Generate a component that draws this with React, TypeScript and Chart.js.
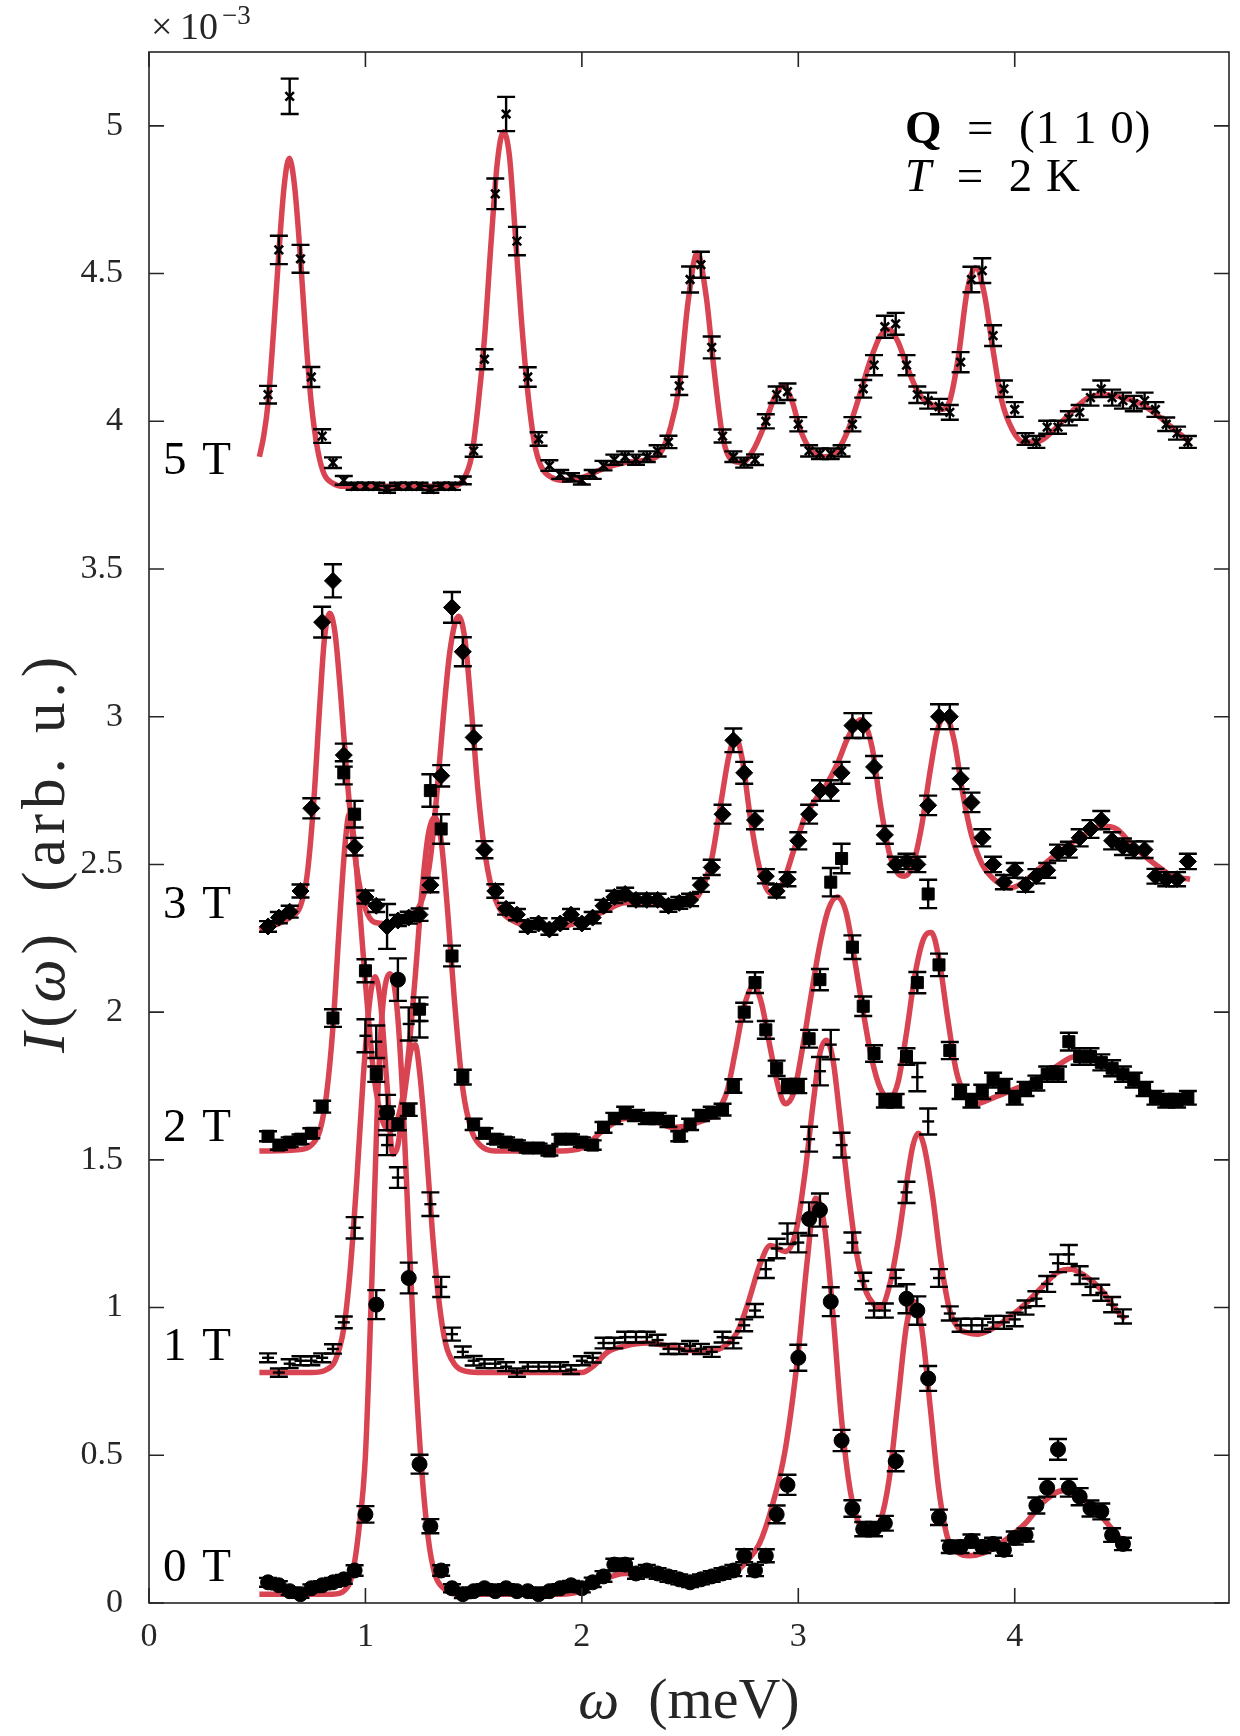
import React, { useEffect, useRef } from "react";
import { Chart, registerables } from "chart.js";

Chart.register(...registerables);

// ---------- energy transfer grids (meV) ----------
const omegaLong = [
  0.55, 0.6, 0.65, 0.7, 0.75, 0.8, 0.85, 0.9, 0.95, 1.0,
  1.05, 1.1, 1.15, 1.2, 1.25, 1.3, 1.35, 1.4, 1.45, 1.5,
  1.55, 1.6, 1.65, 1.7, 1.75, 1.8, 1.85, 1.9, 1.95, 2.0,
  2.05, 2.1, 2.15, 2.2, 2.25, 2.3, 2.35, 2.4, 2.45, 2.5,
  2.55, 2.6, 2.65, 2.7, 2.75, 2.8, 2.85, 2.9, 2.95, 3.0,
  3.05, 3.1, 3.15, 3.2, 3.25, 3.3, 3.35, 3.4, 3.45, 3.5,
  3.55, 3.6, 3.65, 3.7, 3.75, 3.8, 3.85, 3.9, 3.95, 4.0,
  4.05, 4.1, 4.15, 4.2, 4.25, 4.3, 4.35, 4.4, 4.45, 4.5,
  4.55, 4.6, 4.65, 4.7, 4.75, 4.8,
];
const omegaShort = [
  0.55, 0.6, 0.65, 0.7, 0.75, 0.8, 0.85, 0.9, 0.95, 1.0,
  1.05, 1.1, 1.15, 1.2, 1.25, 1.3, 1.35, 1.4, 1.45, 1.5,
  1.55, 1.6, 1.65, 1.7, 1.75, 1.8, 1.85, 1.9, 1.95, 2.0,
  2.05, 2.1, 2.15, 2.2, 2.25, 2.3, 2.35, 2.4, 2.45, 2.5,
  2.55, 2.6, 2.65, 2.7, 2.75, 2.8, 2.85, 2.9, 2.95, 3.0,
  3.05, 3.1, 3.15, 3.2, 3.25, 3.3, 3.35, 3.4, 3.45, 3.5,
  3.55, 3.6, 3.65, 3.7, 3.75, 3.8, 3.85, 3.9, 3.95, 4.0,
  4.05, 4.1, 4.15, 4.2, 4.25, 4.3, 4.35, 4.4, 4.45, 4.5,
];

// ---------- measured intensities (x 1e-3 arb. u.) ----------
const int5T = [
  4.09, 4.58, 5.10, 4.55, 4.15, 3.95, 3.86, 3.80, 3.78, 3.78,
  3.78, 3.77, 3.78, 3.78, 3.78, 3.77, 3.78, 3.78, 3.80, 3.90,
  4.21, 4.77, 5.04, 4.61, 4.15, 3.94, 3.85, 3.82, 3.81, 3.80,
  3.82, 3.85, 3.87, 3.88, 3.87, 3.88, 3.90, 3.93, 4.12, 4.48,
  4.53, 4.25, 3.95, 3.88, 3.86, 3.87, 4.00, 4.09, 4.10, 3.99,
  3.90, 3.89, 3.89, 3.90, 3.99, 4.11, 4.19, 4.32, 4.33, 4.19,
  4.09, 4.07, 4.05, 4.03, 4.20, 4.48, 4.51, 4.29, 4.11, 4.04,
  3.94, 3.93, 3.98, 3.98, 4.01, 4.03, 4.08, 4.11, 4.08, 4.07,
  4.06, 4.07, 4.04, 3.99, 3.96, 3.93,
];
const err5T = [
  0.030, 0.048, 0.060, 0.047, 0.034, 0.023, 0.018, 0.015, 0.012, 0.012,
  0.012, 0.012, 0.012, 0.012, 0.012, 0.012, 0.012, 0.012, 0.013, 0.020,
  0.034, 0.052, 0.058, 0.048, 0.033, 0.023, 0.018, 0.015, 0.014, 0.014,
  0.015, 0.016, 0.017, 0.018, 0.017, 0.018, 0.019, 0.021, 0.031, 0.044,
  0.044, 0.037, 0.022, 0.018, 0.017, 0.018, 0.024, 0.028, 0.028, 0.024,
  0.019, 0.018, 0.018, 0.019, 0.024, 0.030, 0.034, 0.037, 0.037, 0.034,
  0.028, 0.027, 0.026, 0.025, 0.034, 0.043, 0.042, 0.035, 0.028, 0.025,
  0.020, 0.020, 0.022, 0.022, 0.024, 0.025, 0.027, 0.028, 0.027, 0.027,
  0.026, 0.027, 0.025, 0.023, 0.022, 0.020,
];

const int3T = [
  2.29, 2.32, 2.34, 2.41, 2.69, 3.32, 3.46, 2.87, 2.56, 2.39,
  2.36, 2.29, 2.31, 2.32, 2.33, 2.43, 2.80, 3.37, 3.22, 2.93,
  2.55, 2.41, 2.35, 2.33, 2.29, 2.30, 2.28, 2.30, 2.33, 2.30,
  2.32, 2.36, 2.39, 2.40, 2.38, 2.38, 2.38, 2.36, 2.37, 2.38,
  2.43, 2.49, 2.67, 2.92, 2.81, 2.65, 2.46, 2.41, 2.45, 2.58,
  2.67, 2.75, 2.75, 2.81, 2.97, 2.97, 2.83, 2.60, 2.50, 2.51,
  2.50, 2.70, 3.00, 3.00, 2.79, 2.71, 2.59, 2.50, 2.44, 2.48,
  2.43, 2.46, 2.48, 2.54, 2.55, 2.59, 2.62, 2.65, 2.58, 2.56,
  2.55, 2.55, 2.46, 2.45, 2.45, 2.51,
];
const err3T = [
  0.018, 0.019, 0.020, 0.022, 0.034, 0.052, 0.056, 0.039, 0.030, 0.022,
  0.021, 0.076, 0.019, 0.020, 0.021, 0.024, 0.036, 0.052, 0.049, 0.040,
  0.029, 0.023, 0.020, 0.019, 0.018, 0.018, 0.018, 0.018, 0.019, 0.018,
  0.019, 0.020, 0.021, 0.021, 0.021, 0.021, 0.021, 0.020, 0.020, 0.021,
  0.023, 0.026, 0.032, 0.040, 0.037, 0.031, 0.024, 0.022, 0.024, 0.029,
  0.032, 0.035, 0.035, 0.037, 0.042, 0.042, 0.037, 0.030, 0.026, 0.026,
  0.026, 0.033, 0.042, 0.042, 0.035, 0.033, 0.029, 0.026, 0.024, 0.025,
  0.023, 0.024, 0.025, 0.027, 0.027, 0.029, 0.030, 0.031, 0.029, 0.028,
  0.028, 0.028, 0.025, 0.024, 0.024, 0.026,
];

const int2T = [
  1.58, 1.55, 1.56, 1.57, 1.59, 1.68, 1.98, 2.81, 2.67, 2.14,
  1.79, 1.66, 1.62, 1.67, 2.01, 2.75, 2.62, 2.19, 1.78, 1.62,
  1.59, 1.57, 1.56, 1.55, 1.54, 1.54, 1.53, 1.57, 1.57, 1.56,
  1.55, 1.61, 1.64, 1.66, 1.65, 1.64, 1.64, 1.63, 1.58, 1.62,
  1.65, 1.66, 1.67, 1.75, 2.00, 2.10, 1.94, 1.81, 1.75, 1.75,
  1.91, 2.11, 2.44, 2.52, 2.22, 2.02, 1.86, 1.70, 1.70, 1.85,
  2.10, 2.40, 2.16, 1.87, 1.73, 1.70, 1.73, 1.77, 1.75, 1.71,
  1.74, 1.76, 1.79, 1.79, 1.90, 1.85, 1.85, 1.83, 1.81, 1.79,
  1.77, 1.74, 1.71, 1.70, 1.70, 1.71,
];
const err2T = [
  0.017, 0.016, 0.016, 0.016, 0.017, 0.020, 0.030, 0.039, 0.045, 0.039,
  0.026, 0.021, 0.020, 0.021, 0.040, 0.055, 0.050, 0.035, 0.025, 0.019,
  0.017, 0.016, 0.016, 0.016, 0.015, 0.015, 0.015, 0.016, 0.016, 0.016,
  0.016, 0.018, 0.019, 0.020, 0.019, 0.019, 0.019, 0.019, 0.017, 0.019,
  0.019, 0.020, 0.020, 0.023, 0.032, 0.035, 0.030, 0.026, 0.024, 0.024,
  0.030, 0.036, 0.048, 0.050, 0.040, 0.033, 0.028, 0.023, 0.023, 0.028,
  0.036, 0.048, 0.038, 0.029, 0.024, 0.023, 0.024, 0.025, 0.024, 0.023,
  0.024, 0.025, 0.026, 0.026, 0.030, 0.028, 0.028, 0.027, 0.027, 0.026,
  0.025, 0.024, 0.023, 0.023, 0.023, 0.023,
];

const int1T = [
  0.83, 0.78, 0.81, 0.82, 0.82, 0.83, 0.86, 0.95, 1.27, 1.92,
  1.90, 1.55, 1.44, 1.96, 1.97, 1.35, 1.07, 0.91, 0.85, 0.82,
  0.81, 0.81, 0.80, 0.78, 0.80, 0.80, 0.80, 0.80, 0.79, 0.82,
  0.83, 0.88, 0.88, 0.90, 0.90, 0.90, 0.89, 0.86, 0.86, 0.87,
  0.86, 0.85, 0.90, 0.88, 0.94, 0.99, 1.13, 1.20, 1.25, 1.22,
  1.57, 1.80, 1.89, 1.55, 1.22, 1.09, 0.99, 0.99, 1.10, 1.39,
  1.78, 1.63, 1.10, 0.98, 0.94, 0.94, 0.94, 0.95, 0.95, 0.96,
  1.00, 1.03, 1.08, 1.15, 1.18, 1.11, 1.07, 1.05, 1.01, 0.97,
];
const err1T = [
  0.015, 0.014, 0.015, 0.015, 0.015, 0.015, 0.016, 0.020, 0.036, 0.056,
  0.055, 0.034, 0.035, 0.056, 0.056, 0.040, 0.034, 0.022, 0.018, 0.016,
  0.015, 0.015, 0.015, 0.014, 0.015, 0.015, 0.015, 0.015, 0.015, 0.015,
  0.016, 0.018, 0.018, 0.018, 0.018, 0.018, 0.018, 0.017, 0.017, 0.017,
  0.017, 0.017, 0.018, 0.018, 0.020, 0.022, 0.030, 0.033, 0.035, 0.033,
  0.042, 0.048, 0.050, 0.042, 0.034, 0.028, 0.024, 0.024, 0.028, 0.036,
  0.048, 0.044, 0.030, 0.024, 0.022, 0.022, 0.022, 0.022, 0.022, 0.023,
  0.024, 0.025, 0.027, 0.030, 0.032, 0.030, 0.028, 0.027, 0.026, 0.024,
];

const int0T = [
  0.07, 0.06, 0.04, 0.03, 0.05, 0.06, 0.07, 0.08, 0.11, 0.30,
  1.01, 1.66, 2.11, 1.10, 0.47, 0.26, 0.11, 0.05, 0.03, 0.04,
  0.05, 0.04, 0.05, 0.04, 0.04, 0.03, 0.04, 0.05, 0.06, 0.05,
  0.07, 0.09, 0.13, 0.13, 0.10, 0.11, 0.10, 0.09, 0.08, 0.07,
  0.08, 0.09, 0.10, 0.11, 0.16, 0.11, 0.16, 0.30, 0.40, 0.83,
  1.30, 1.33, 1.02, 0.55, 0.32, 0.25, 0.25, 0.27, 0.48, 1.03,
  0.99, 0.76, 0.29, 0.19, 0.19, 0.21, 0.19, 0.20, 0.18, 0.22,
  0.23, 0.33, 0.39, 0.52, 0.39, 0.36, 0.32, 0.31, 0.23, 0.20,
];
const err0T = [
  0.015, 0.014, 0.013, 0.012, 0.013, 0.014, 0.015, 0.015, 0.018, 0.028,
  0.049, 0.060, 0.072, 0.052, 0.032, 0.024, 0.018, 0.014, 0.013, 0.013,
  0.014, 0.013, 0.014, 0.013, 0.013, 0.012, 0.013, 0.014, 0.015, 0.014,
  0.016, 0.018, 0.020, 0.020, 0.018, 0.019, 0.018, 0.018, 0.017, 0.016,
  0.017, 0.018, 0.018, 0.019, 0.022, 0.019, 0.022, 0.030, 0.034, 0.044,
  0.056, 0.056, 0.049, 0.036, 0.028, 0.024, 0.024, 0.025, 0.034, 0.049,
  0.048, 0.042, 0.026, 0.021, 0.021, 0.022, 0.021, 0.021, 0.020, 0.022,
  0.022, 0.027, 0.030, 0.035, 0.030, 0.029, 0.027, 0.027, 0.023, 0.021,
];

// ---------- fitted model curves ----------
const fit5W = [
  0.51, 0.53, 0.55, 0.575, 0.6, 0.625, 0.648, 0.672, 0.7, 0.725, 0.75, 0.78, 0.81, 0.85, 0.9,
  1.4, 1.45, 1.49, 1.52, 1.55, 1.58, 1.61, 1.638, 1.665, 1.69, 1.72, 1.75, 1.78, 1.81, 1.86, 1.92,
  2.0, 2.1, 2.2, 2.3, 2.36, 2.41, 2.45, 2.49, 2.533, 2.575, 2.61, 2.65, 2.69, 2.74, 2.79, 2.84,
  2.89, 2.93, 2.97, 3.01, 3.06, 3.12, 3.18, 3.23, 3.28, 3.33, 3.38, 3.42, 3.46, 3.51, 3.56,
  3.61, 3.66, 3.7, 3.74, 3.78, 3.82, 3.86, 3.9, 3.94, 3.99, 4.04, 4.1, 4.18, 4.26, 4.34,
  4.42, 4.5, 4.58, 4.66, 4.74, 4.81,
];
const fit5I = [
  3.88, 3.95, 4.06, 4.30, 4.57, 4.80, 4.89, 4.80, 4.55, 4.28, 4.06, 3.90, 3.82, 3.79, 3.78,
  3.78, 3.80, 3.88, 4.05, 4.28, 4.60, 4.88, 4.98, 4.90, 4.66, 4.35, 4.10, 3.93, 3.85, 3.81, 3.80,
  3.81, 3.84, 3.86, 3.87, 3.89, 3.98, 4.12, 4.40, 4.57, 4.42, 4.18, 3.95, 3.87, 3.86, 3.90, 3.98,
  4.08, 4.12, 4.07, 3.97, 3.90, 3.88, 3.90, 3.97, 4.08, 4.20, 4.29, 4.31, 4.27, 4.17, 4.09,
  4.06, 4.04, 4.07, 4.22, 4.44, 4.52, 4.43, 4.24, 4.07, 3.97, 3.93, 3.93, 3.97, 4.03, 4.08,
  4.09, 4.08, 4.06, 4.02, 3.97, 3.93,
];

const fit3W = [
  0.51, 0.6, 0.65, 0.7, 0.73, 0.76, 0.79, 0.81, 0.835, 0.86, 0.885, 0.91, 0.94, 0.97, 1.0,
  1.04, 1.1, 1.16, 1.22, 1.27, 1.3, 1.33, 1.36, 1.39, 1.43, 1.46, 1.49, 1.52, 1.55, 1.58,
  1.62, 1.68, 1.8, 1.9, 2.0, 2.1, 2.2, 2.3, 2.4, 2.5, 2.55, 2.6, 2.645, 2.68, 2.71, 2.74,
  2.78, 2.82, 2.86, 2.89, 2.93, 2.98, 3.03, 3.08, 3.13, 3.18, 3.23, 3.29, 3.34, 3.38, 3.42,
  3.46, 3.49, 3.53, 3.57, 3.61, 3.645, 3.68, 3.72, 3.76, 3.8, 3.85, 3.92, 3.98, 4.04, 4.12,
  4.2, 4.3, 4.4, 4.47, 4.55, 4.65, 4.73, 4.81,
];
const fit3I = [
  2.28, 2.30, 2.32, 2.36, 2.46, 2.70, 3.05, 3.26, 3.35, 3.28, 3.08, 2.84, 2.60, 2.44, 2.35,
  2.305, 2.30, 2.31, 2.33, 2.40, 2.52, 2.74, 3.00, 3.22, 3.34, 3.26, 3.02, 2.75, 2.55, 2.43,
  2.35, 2.31, 2.29, 2.29, 2.31, 2.34, 2.37, 2.37, 2.36, 2.37, 2.41, 2.52, 2.72, 2.87, 2.93, 2.86,
  2.65, 2.49, 2.41, 2.40, 2.44, 2.55, 2.66, 2.72, 2.77, 2.84, 2.93, 2.99, 2.90, 2.70, 2.54,
  2.47, 2.46, 2.50, 2.63, 2.82, 2.96, 3.00, 2.92, 2.74, 2.60, 2.50, 2.44, 2.42, 2.44, 2.49,
  2.54, 2.59, 2.63, 2.62, 2.56, 2.50, 2.46, 2.45,
];

const fit2W = [
  0.51, 0.7, 0.75, 0.79, 0.82, 0.85, 0.88, 0.905, 0.925, 0.945, 0.97, 1.0, 1.04, 1.08, 1.115,
  1.15, 1.19, 1.23, 1.26, 1.29, 1.32, 1.35, 1.38, 1.41, 1.45, 1.49, 1.53, 1.6, 1.9, 2.0,
  2.1, 2.2, 2.3, 2.42, 2.55, 2.62, 2.67, 2.71, 2.75, 2.795, 2.83, 2.87, 2.91, 2.94, 2.98,
  3.02, 3.06, 3.1, 3.14, 3.18, 3.22, 3.26, 3.3, 3.34, 3.38, 3.42, 3.46, 3.5, 3.54, 3.58,
  3.615, 3.65, 3.69, 3.73, 3.77, 3.82, 3.9, 4.0, 4.1, 4.2, 4.28, 4.36, 4.45, 4.55, 4.65,
  4.73, 4.81,
];
const fit2I = [
  1.53, 1.535, 1.55, 1.60, 1.72, 1.95, 2.30, 2.56, 2.67, 2.60, 2.38, 2.10, 1.78, 1.63, 1.60,
  1.64, 1.80, 2.12, 2.40, 2.60, 2.66, 2.58, 2.34, 2.05, 1.74, 1.60, 1.55, 1.53, 1.53, 1.54,
  1.60, 1.64, 1.64, 1.61, 1.63, 1.66, 1.73, 1.87, 2.02, 2.09, 2.03, 1.88, 1.74, 1.69, 1.73,
  1.88, 2.06, 2.23, 2.35, 2.39, 2.34, 2.18, 2.00, 1.84, 1.74, 1.71, 1.76, 1.93, 2.13, 2.25,
  2.27, 2.18, 1.98, 1.80, 1.72, 1.69, 1.71, 1.74, 1.77, 1.82, 1.85, 1.84, 1.81, 1.77, 1.72,
  1.70, 1.70,
];

const fit1W = [
  0.51, 0.75, 0.82, 0.86, 0.9, 0.93, 0.96, 0.99, 1.02, 1.045, 1.07, 1.1, 1.126, 1.15, 1.18,
  1.21, 1.23, 1.25, 1.28, 1.31, 1.34, 1.37, 1.41, 1.46, 1.55, 2.0, 2.05, 2.12, 2.2, 2.3,
  2.4, 2.5, 2.6, 2.66, 2.72, 2.77, 2.82, 2.87, 2.94, 2.99, 3.03, 3.07, 3.1, 3.13, 3.16,
  3.19, 3.23, 3.27, 3.31, 3.35, 3.38, 3.42, 3.46, 3.5, 3.53, 3.555, 3.58, 3.62, 3.66, 3.7,
  3.74, 3.78, 3.83, 3.9, 3.98, 4.06, 4.14, 4.2, 4.26, 4.32, 4.4, 4.46, 4.51,
];
const fit1I = [
  0.78, 0.78, 0.79, 0.82, 0.93, 1.13, 1.43, 1.78, 2.04, 2.12, 2.03, 1.75, 1.52, 1.55, 1.72,
  1.87, 1.89, 1.80, 1.55, 1.25, 1.02, 0.88, 0.81, 0.785, 0.78, 0.78, 0.80, 0.85, 0.87, 0.88,
  0.87, 0.855, 0.855, 0.87, 0.92, 1.02, 1.14, 1.21, 1.19, 1.26, 1.45, 1.70, 1.86, 1.905, 1.84,
  1.66, 1.40, 1.18, 1.06, 1.01, 1.00, 1.07, 1.22, 1.42, 1.55, 1.59, 1.55, 1.38, 1.15, 0.99,
  0.93, 0.915, 0.91, 0.93, 0.97, 1.02, 1.08, 1.12, 1.13, 1.11, 1.06, 1.00, 0.96,
];

const fit0W = [
  0.51, 0.85, 0.9, 0.94, 0.97, 1.0, 1.03, 1.056, 1.08, 1.114, 1.145, 1.172, 1.2, 1.23, 1.257,
  1.29, 1.32, 1.36, 1.42, 1.6, 1.9, 2.0, 2.1, 2.2, 2.3, 2.4, 2.5, 2.6, 2.7, 2.76,
  2.82, 2.88, 2.94, 3.0, 3.04, 3.08, 3.12, 3.16, 3.2, 3.24, 3.28, 3.33, 3.38, 3.42, 3.46,
  3.5, 3.535, 3.57, 3.61, 3.65, 3.69, 3.74, 3.79, 3.86, 3.95, 4.05, 4.13, 4.22, 4.3, 4.38,
  4.45, 4.51,
];
const fit0I = [
  0.03, 0.03, 0.04, 0.10, 0.25, 0.50, 1.10, 1.70, 2.02, 2.13, 2.02, 1.72, 1.25, 0.80, 0.48,
  0.22, 0.10, 0.05, 0.03, 0.03, 0.03, 0.04, 0.08, 0.10, 0.10, 0.09, 0.08, 0.08, 0.10, 0.14,
  0.20, 0.33, 0.52, 0.85, 1.15, 1.37, 1.28, 0.98, 0.62, 0.38, 0.27, 0.24, 0.28, 0.42, 0.68,
  0.94, 1.02, 0.93, 0.66, 0.38, 0.22, 0.17, 0.16, 0.17, 0.21, 0.27, 0.34, 0.38, 0.36, 0.31,
  0.25, 0.20,
];

// ---------- axes ----------
const xTicks = [0, 1, 2, 3, 4];
const yTicks = [0, 0.5, 1, 1.5, 2, 2.5, 3, 3.5, 4, 4.5, 5];
const xRange = [0, 4.99];
const yRange = [0, 5.25];

// ---------- labels ----------
const fieldLabels = ["5 T", "3 T", "2 T", "1 T", "0 T"];
const fieldLabelLevels = [3.865, 2.362, 1.607, 0.866, 0.115];

// ---------- styles ----------
const FONT = '"Liberation Serif", "DejaVu Serif", "Times New Roman", serif';
const RED = "rgb(217, 68, 82)";
const AXIS = "#262626";
const CAP = 9;

type Seg = { t: string; s?: "i" | "b" | "" };

function drawRich(
  ctx: CanvasRenderingContext2D,
  segs: Seg[],
  x: number,
  y: number,
  size: number,
  align: "left" | "center",
  ls = 0
) {
  const fontFor = (s?: string) =>
    `${s === "i" ? "italic " : ""}${s === "b" ? "bold " : ""}${size}px ${FONT}`;
  const chars: { c: string; f: string; w: number }[] = [];
  segs.forEach((seg) => {
    const f = fontFor(seg.s);
    ctx.font = f;
    for (const c of Array.from(seg.t)) {
      chars.push({ c, f, w: ctx.measureText(c).width + ls });
    }
  });
  const total = chars.reduce((a, b) => a + b.w, 0) - ls;
  let cx = align === "center" ? x - total / 2 : x;
  ctx.textAlign = "left";
  chars.forEach((ch) => {
    ctx.font = ch.f;
    ctx.fillText(ch.c, cx, y);
    cx += ch.w;
  });
}

const errorBarPlugin = {
  id: "errorBars",
  afterDatasetsDraw(chart: any) {
    const ctx: CanvasRenderingContext2D = chart.ctx;
    const xs = chart.scales.x;
    const ys = chart.scales.y;
    ctx.save();
    ctx.strokeStyle = "#000";
    ctx.lineWidth = 2.4;
    chart.data.datasets.forEach((ds: any) => {
      const errs: number[] | undefined = ds.errors;
      if (!errs) return;
      ds.data.forEach((p: any, k: number) => {
        const px = xs.getPixelForValue(p.x);
        const y1 = ys.getPixelForValue(p.y - errs[k]);
        const y2 = ys.getPixelForValue(p.y + errs[k]);
        ctx.beginPath();
        ctx.moveTo(px, y1);
        ctx.lineTo(px, y2);
        ctx.moveTo(px - CAP, y1);
        ctx.lineTo(px + CAP, y1);
        ctx.moveTo(px - CAP, y2);
        ctx.lineTo(px + CAP, y2);
        ctx.stroke();
      });
    });
    ctx.restore();
  },
};

const framePlugin = {
  id: "frameAndText",
  afterDraw(chart: any) {
    const ctx: CanvasRenderingContext2D = chart.ctx;
    const { left, right, top, bottom } = chart.chartArea;
    const xs = chart.scales.x;
    const ys = chart.scales.y;
    const TL = 15;
    ctx.save();
    ctx.strokeStyle = AXIS;
    ctx.lineWidth = 1.6;
    ctx.strokeRect(left, top, right - left, bottom - top);
    ctx.beginPath();
    xTicks.forEach((v) => {
      const px = xs.getPixelForValue(v);
      ctx.moveTo(px, bottom);
      ctx.lineTo(px, bottom - TL);
      ctx.moveTo(px, top);
      ctx.lineTo(px, top + TL);
    });
    yTicks.forEach((v) => {
      const py = ys.getPixelForValue(v);
      ctx.moveTo(left, py);
      ctx.lineTo(left + TL, py);
      ctx.moveTo(right, py);
      ctx.lineTo(right - TL, py);
    });
    ctx.stroke();

    ctx.fillStyle = AXIS;
    ctx.textBaseline = "alphabetic";
    // exponent marker
    drawRich(ctx, [{ t: "×\u200910" }], 151, 39, 38, "left");
    drawRich(ctx, [{ t: "−3" }], 222, 24, 27, "left");

    // x-axis title
    drawRich(ctx, [{ t: "ω", s: "i" }, { t: "\u2002(meV)" }], (left + right) / 2, 1718, 58, "center");

    // y-axis title
    ctx.save();
    ctx.translate(64, 855);
    ctx.rotate(-Math.PI / 2);
    drawRich(
      ctx,
      [{ t: "I", s: "i" }, { t: "(" }, { t: "ω", s: "i" }, { t: ")\u2009 (arb. u.)" }],
      0,
      0,
      61,
      "center",
      5
    );
    ctx.restore();

    // annotation
    ctx.fillStyle = "#000";
    drawRich(ctx, [{ t: "Q", s: "b" }, { t: "\u2002=\u2002(1 1 0)" }], 905, 143, 47, "left", 1);
    drawRich(ctx, [{ t: "T", s: "i" }, { t: "\u2002=\u20022 K" }], 905, 191, 47, "left", 1);

    // field labels
    ctx.textBaseline = "middle";
    fieldLabels.forEach((lab, i) => {
      drawRich(ctx, [{ t: lab }], 163, ys.getPixelForValue(fieldLabelLevels[i]), 47, "left", 2);
    });
    ctx.restore();
  },
};

function pts(w: number[], v: number[]) {
  return w.map((x, k) => ({ x, y: v[k] }));
}

export default function App() {
  const ref = useRef<HTMLCanvasElement>(null);

  useEffect(() => {
    document.body.style.margin = "0";
    const fitDs = (w: number[], v: number[]) => ({
      type: "line" as const,
      data: pts(w, v),
      borderColor: RED,
      borderWidth: 5.5,
      pointRadius: 0,
      fill: false,
      cubicInterpolationMode: "monotone" as const,
      order: 5,
    });
    const dataDs = (w: number[], v: number[], e: number[], style: string, r: number, bw: number) => ({
      type: "scatter" as const,
      data: pts(w, v),
      errors: e,
      pointStyle: style,
      pointRadius: r,
      backgroundColor: "#000",
      borderColor: "#000",
      borderWidth: bw,
      showLine: false,
      order: 1,
    });

    const chart = new Chart(ref.current as HTMLCanvasElement, {
      type: "line",
      data: {
        datasets: [
          fitDs(fit5W, fit5I),
          fitDs(fit3W, fit3I),
          fitDs(fit2W, fit2I),
          fitDs(fit1W, fit1I),
          fitDs(fit0W, fit0I),
          dataDs(omegaLong, int5T, err5T, "crossRot", 6, 2.6),
          dataDs(omegaLong, int3T, err3T, "rectRot", 8.5, 1),
          dataDs(omegaLong, int2T, err2T, "rect", 8.5, 1),
          dataDs(omegaShort, int1T, err1T, "line", 6, 2.4),
          dataDs(omegaShort, int0T, err0T, "circle", 7.5, 1),
        ] as any,
      },
      options: {
        animation: false,
        responsive: false,
        devicePixelRatio: 1,
        layout: { padding: { left: 0, top: 52, right: 11, bottom: 0 } },
        plugins: { legend: { display: false }, tooltip: { enabled: false } },
        scales: {
          x: {
            type: "linear",
            min: xRange[0],
            max: xRange[1],
            grid: { display: false },
            border: { display: false },
            afterBuildTicks: (s: any) => {
              s.ticks = xTicks.map((v) => ({ value: v }));
            },
            afterFit: (s: any) => {
              s.height = 133;
            },
            ticks: {
              color: AXIS,
              font: { family: FONT, size: 34 },
              padding: 6,
              maxRotation: 0,
              autoSkip: false,
              callback: (v: any) => String(v),
            },
          },
          y: {
            type: "linear",
            min: yRange[0],
            max: yRange[1],
            grid: { display: false },
            border: { display: false },
            afterBuildTicks: (s: any) => {
              s.ticks = yTicks.map((v) => ({ value: v }));
            },
            afterFit: (s: any) => {
              s.width = 149;
            },
            ticks: {
              color: AXIS,
              font: { family: FONT, size: 34 },
              padding: 18,
              autoSkip: false,
              callback: (v: any) => String(v),
            },
          },
        },
      },
      plugins: [errorBarPlugin, framePlugin],
    } as any);
    return () => chart.destroy();
  }, []);

  return (
    <div style={{ width: 1240, height: 1736, position: "relative", background: "#fff" }}>
      <canvas ref={ref} width={1240} height={1736} style={{ display: "block" }} />
    </div>
  );
}
